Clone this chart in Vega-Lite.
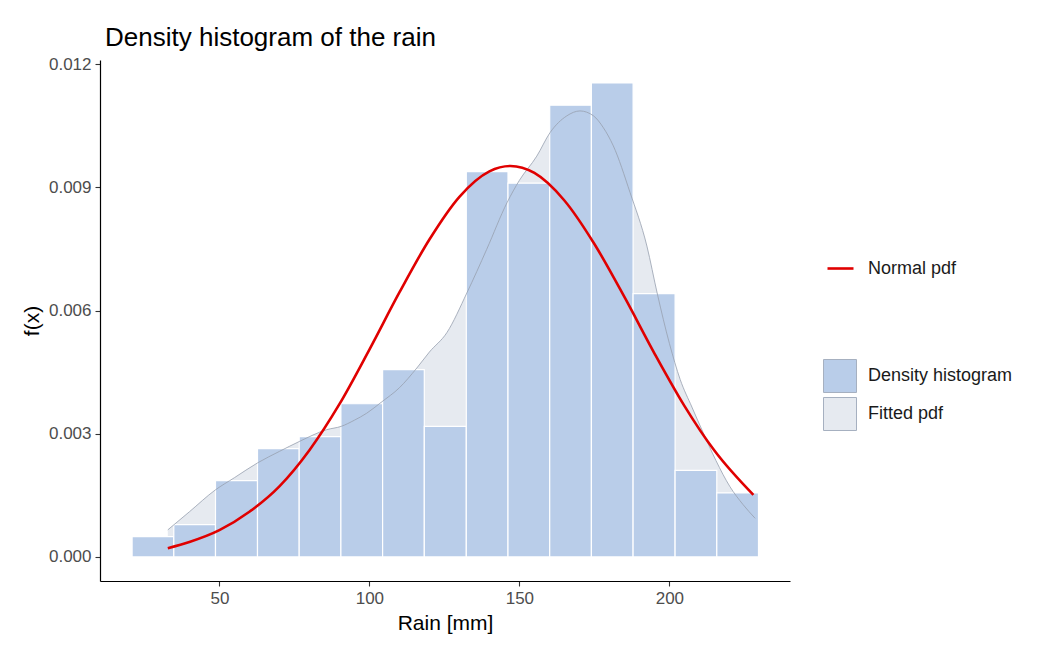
{
  "$schema": "https://vega.github.io/schema/vega-lite/v6.json",
  "width": 690,
  "height": 521,
  "autosize": {"type": "none"},
  "padding": {"left": 100, "top": 60, "right": 261, "bottom": 75},
  "background": "white",
  "title": {
    "text": "Density histogram of the rain",
    "anchor": "start",
    "frame": "group",
    "dx": 5,
    "dy": 30,
    "offset": 13,
    "baseline": "alphabetic",
    "font": "Liberation Sans",
    "fontSize": 26,
    "fontWeight": "normal",
    "color": "#000000"
  },
  "config": {
    "view": {"stroke": null},
    "font": "Liberation Sans",
    "axis": {
      "grid": false,
      "domainColor": "#000000",
      "domainWidth": 1.2,
      "tickColor": "#333333",
      "tickSize": 5,
      "tickWidth": 1.1,
      "labelColor": "#4d4d4d",
      "labelFont": "Liberation Sans",
      "labelFontSize": 17,
      "titleFont": "Liberation Sans",
      "titleFontSize": 21,
      "titleFontWeight": "normal",
      "titleColor": "#000000"
    },
    "legend": {
      "labelFont": "Liberation Sans",
      "labelFontSize": 18,
      "labelColor": "#1a1a1a",
      "padding": 0
    }
  },
  "datasets": {
    "hist": [
      {"bin_start": 20.9, "bin_end": 34.8, "density": 0.000495},
      {"bin_start": 34.8, "bin_end": 48.7, "density": 0.000788},
      {"bin_start": 48.7, "bin_end": 62.7, "density": 0.00186},
      {"bin_start": 62.7, "bin_end": 76.6, "density": 0.00264},
      {"bin_start": 76.6, "bin_end": 90.5, "density": 0.00293},
      {"bin_start": 90.5, "bin_end": 104.4, "density": 0.00373},
      {"bin_start": 104.4, "bin_end": 118.3, "density": 0.00456},
      {"bin_start": 118.3, "bin_end": 132.3, "density": 0.00318},
      {"bin_start": 132.3, "bin_end": 146.2, "density": 0.00938},
      {"bin_start": 146.2, "bin_end": 160.1, "density": 0.0091},
      {"bin_start": 160.1, "bin_end": 174.0, "density": 0.0110},
      {"bin_start": 174.0, "bin_end": 187.9, "density": 0.01154},
      {"bin_start": 187.9, "bin_end": 201.9, "density": 0.00641},
      {"bin_start": 201.9, "bin_end": 215.8, "density": 0.00211},
      {"bin_start": 215.8, "bin_end": 229.7, "density": 0.00156}
    ],
    "kde": [
      {"rain": 32.8, "density": 0.00066},
      {"rain": 40.0, "density": 0.0011},
      {"rain": 48.6, "density": 0.00163},
      {"rain": 55.0, "density": 0.00193},
      {"rain": 62.7, "density": 0.00229},
      {"rain": 70.0, "density": 0.00257},
      {"rain": 76.6, "density": 0.00281},
      {"rain": 85.8, "density": 0.0031},
      {"rain": 90.6, "density": 0.00318},
      {"rain": 95.0, "density": 0.00333},
      {"rain": 99.1, "density": 0.0035},
      {"rain": 104.0, "density": 0.00377},
      {"rain": 110.0, "density": 0.00412},
      {"rain": 115.8, "density": 0.0046},
      {"rain": 120.0, "density": 0.00499},
      {"rain": 125.8, "density": 0.00546},
      {"rain": 132.5, "density": 0.00643},
      {"rain": 139.1, "density": 0.00749},
      {"rain": 145.9, "density": 0.00863},
      {"rain": 150.0, "density": 0.00917},
      {"rain": 155.8, "density": 0.00976},
      {"rain": 160.2, "density": 0.01033},
      {"rain": 165.8, "density": 0.01074},
      {"rain": 170.2, "density": 0.01086},
      {"rain": 174.7, "density": 0.01074},
      {"rain": 178.0, "density": 0.01045},
      {"rain": 181.3, "density": 0.01001},
      {"rain": 186.9, "density": 0.00887},
      {"rain": 192.5, "density": 0.00757},
      {"rain": 196.0, "density": 0.0064},
      {"rain": 200.0, "density": 0.0052},
      {"rain": 203.6, "density": 0.00432},
      {"rain": 207.5, "density": 0.00365},
      {"rain": 211.3, "density": 0.00302},
      {"rain": 215.5, "density": 0.00235},
      {"rain": 220.2, "density": 0.00171},
      {"rain": 224.5, "density": 0.00128},
      {"rain": 228.6, "density": 0.00094}
    ],
    "normal": [
      {"rain": 32.8, "density": 0.000215},
      {"rain": 40.0, "density": 0.000365},
      {"rain": 50.0, "density": 0.000653},
      {"rain": 60.0, "density": 0.0011},
      {"rain": 70.0, "density": 0.00172},
      {"rain": 80.0, "density": 0.0026},
      {"rain": 90.0, "density": 0.00372},
      {"rain": 100.0, "density": 0.00505},
      {"rain": 110.0, "density": 0.00644},
      {"rain": 120.0, "density": 0.00773},
      {"rain": 130.0, "density": 0.00877},
      {"rain": 140.0, "density": 0.00939},
      {"rain": 147.0, "density": 0.00952},
      {"rain": 155.0, "density": 0.00935},
      {"rain": 165.0, "density": 0.00868},
      {"rain": 175.0, "density": 0.00762},
      {"rain": 185.0, "density": 0.00633},
      {"rain": 195.0, "density": 0.00496},
      {"rain": 205.0, "density": 0.00368},
      {"rain": 215.0, "density": 0.00259},
      {"rain": 228.0, "density": 0.00151}
    ]
  },
  "layer": [
    {
      "data": {"name": "kde"},
      "mark": {"type": "area", "opacity": 1, "interpolate": "monotone"},
      "encoding": {
        "x": {"field": "rain", "type": "quantitative"},
        "y": {"field": "density", "type": "quantitative"},
        "fill": {"datum": "Fitted pdf"}
      }
    },
    {
      "data": {"name": "hist"},
      "mark": {"type": "bar", "stroke": "#ffffff", "strokeWidth": 1.2, "opacity": 1},
      "encoding": {
        "x": {
          "field": "bin_start",
          "type": "quantitative",
          "scale": {"domain": [10.2, 240.2], "nice": false, "zero": false},
          "axis": {"values": [50, 100, 150, 200], "title": "Rain [mm]", "labelPadding": 4, "titlePadding": 6}
        },
        "x2": {"field": "bin_end"},
        "y": {
          "field": "density",
          "type": "quantitative",
          "scale": {"domain": [-0.000585, 0.0121], "nice": false, "zero": false},
          "axis": {"values": [0, 0.003, 0.006, 0.009, 0.012], "format": ".3f", "title": "f(x)", "labelPadding": 4, "titlePadding": 6}
        },
        "y2": {"datum": 0},
        "fill": {
          "datum": "Density histogram",
          "scale": {"domain": ["Density histogram", "Fitted pdf"], "range": ["#b9cde9", "#e6eaf0"]},
          "legend": {
            "title": null,
            "orient": "none",
            "legendX": 723,
            "legendY": 299,
            "symbolType": "square",
            "symbolSize": 1089,
            "symbolStrokeColor": "#a6b0c0",
            "symbolStrokeWidth": 1,
            "symbolOpacity": 1,
            "rowPadding": 0,
            "labelOffset": 11
          }
        }
      }
    },
    {
      "data": {"name": "kde"},
      "mark": {"type": "line", "color": "#97a0ae", "strokeWidth": 0.8, "interpolate": "monotone"},
      "encoding": {
        "x": {"field": "rain", "type": "quantitative"},
        "y": {"field": "density", "type": "quantitative"}
      }
    },
    {
      "data": {"name": "normal"},
      "mark": {"type": "line", "strokeWidth": 2.6, "interpolate": "monotone"},
      "encoding": {
        "x": {"field": "rain", "type": "quantitative"},
        "y": {"field": "density", "type": "quantitative"},
        "stroke": {
          "datum": "Normal pdf",
          "scale": {"domain": ["Normal pdf"], "range": ["#e00000"]},
          "legend": {
            "title": null,
            "orient": "none",
            "legendX": 726,
            "legendY": 194,
            "symbolType": "stroke",
            "symbolSize": 676,
            "symbolStrokeWidth": 2.6,
            "labelOffset": 13
          }
        }
      }
    }
  ]
}
